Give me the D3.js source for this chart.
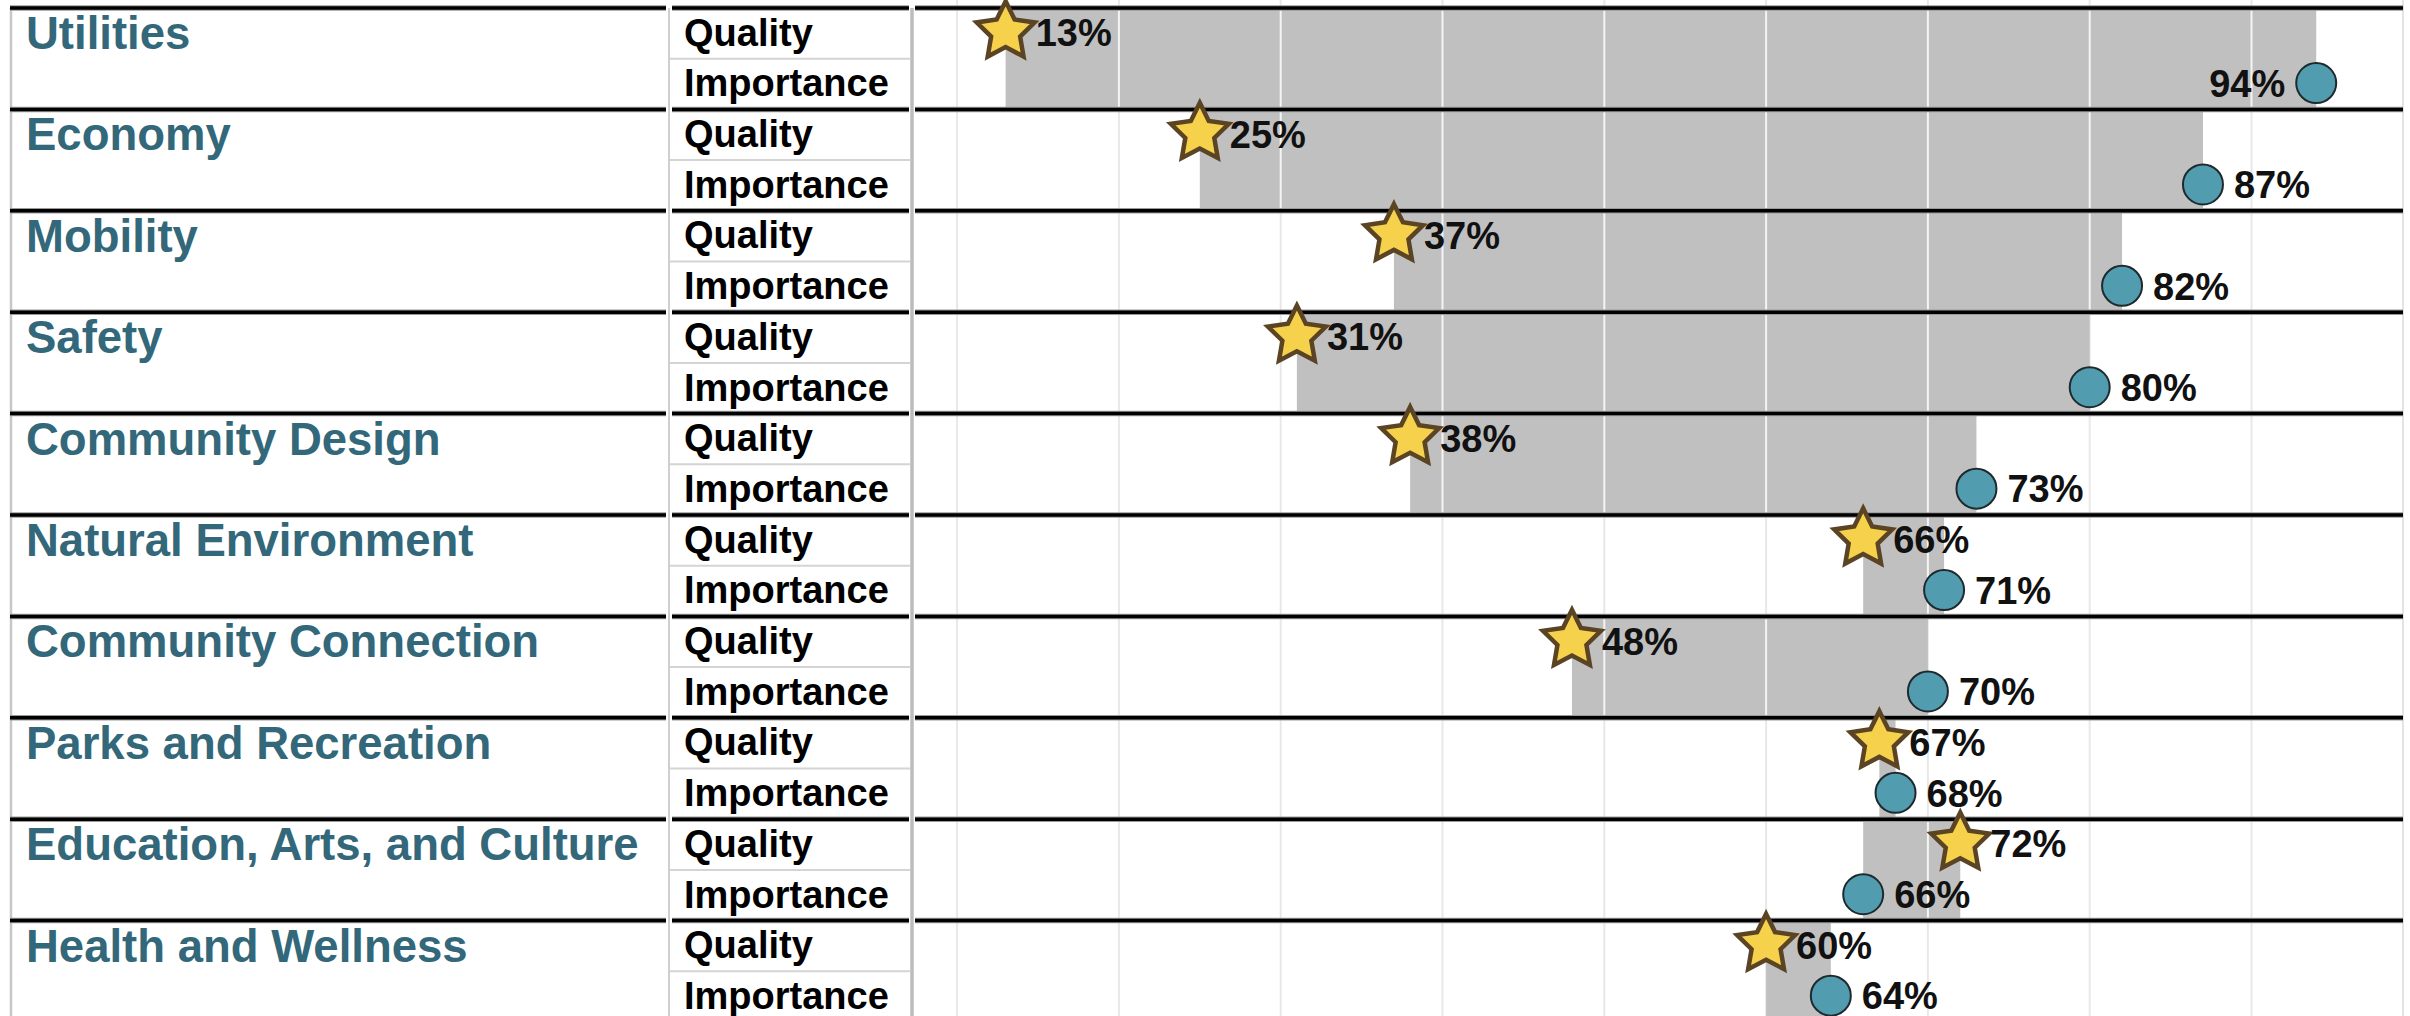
<!DOCTYPE html>
<html>
<head>
    <meta charset="utf-8">
    <title>Quality vs Importance</title>
    <script src="https://d3js.org/d3.v7.min.js"></script>
    <style>
        body { margin:0; background:#fff; }
        svg {
            display:block;
            font-family: 'Liberation Sans', Arial, sans-serif;
            font-weight: bold;
        }
    </style>
</head>
<body>
    <svg id="chart" width="2410" height="1016"></svg>
<script>
    // values (percent)
    const categories = ['Utilities', 'Economy', 'Mobility', 'Safety', 'Community Design',
                        'Natural Environment', 'Community Connection', 'Parks and Recreation',
                        'Education, Arts, and Culture', 'Health and Wellness'];
    const qualityPct = [13, 25, 37, 31, 38, 66, 48, 67, 72, 60];
    const importancePct = [94, 87, 82, 80, 73, 71, 70, 68, 66, 64];
    const subLabels = ['Quality', 'Importance'];
    const gridTicks = [10, 20, 30, 40, 50, 60, 70, 80, 90];

    let svg = d3.select('#chart');
    let width = 2410, height = 1016;

    // table columns
    let tableLeft = 11, catRight = 668, subRight = 912, paneRight = 2403;
    let rowH = 101.4;

    let rowScale = d3.scaleBand()
                    .domain(categories)
                    .range([8, 8 + rowH * categories.length]);
    let subScale = d3.scaleBand()
                    .domain(subLabels)
                    .range([0, rowScale.bandwidth()]);
    let xScale = d3.scaleLinear()
                    .domain([0, 100])
                    .range([795.3, 2413.3]);

    let rows = categories.map((c, i) => ({ cat: c, q: qualityPct[i], imp: importancePct[i] }));
    let qY = d => rowScale(d.cat) + subScale('Quality') + subScale.bandwidth() / 2 - 1.5;
    let iY = d => rowScale(d.cat) + subScale('Importance') + subScale.bandwidth() / 2 - 1;

    // light gridlines across the pane
    svg.append('g').selectAll('line')
        .data(gridTicks)
        .join('line')
        .attr('x1', d => xScale(d)).attr('x2', d => xScale(d))
        .attr('y1', 0).attr('y2', height)
        .style('stroke', '#e8e8e8')
        .style('stroke-width', 2);
    svg.append('line')
        .attr('x1', paneRight).attr('x2', paneRight)
        .attr('y1', 0).attr('y2', height)
        .style('stroke', '#e4e4e4')
        .style('stroke-width', 2);

    // gray gap bands between quality and importance
    let bandG = svg.append('g');
    bandG.selectAll('rect')
        .data(rows)
        .join('rect')
        .attr('x', d => xScale(Math.min(d.q, d.imp)))
        .attr('width', d => Math.abs(xScale(d.imp) - xScale(d.q)))
        .attr('y', d => rowScale(d.cat))
        .attr('height', rowScale.bandwidth())
        .style('fill', '#c0c0c0');

    // white gridlines where they cross a band
    rows.forEach(r => {
        let lo = Math.min(r.q, r.imp), hi = Math.max(r.q, r.imp);
        bandG.selectAll(null)
            .data(gridTicks.filter(t => t > lo && t < hi))
            .join('line')
            .attr('x1', t => xScale(t)).attr('x2', t => xScale(t))
            .attr('y1', rowScale(r.cat)).attr('y2', rowScale(r.cat) + rowScale.bandwidth())
            .style('stroke', '#f4f4f4')
            .style('stroke-width', 2);
    });

    // table structure
    let tableG = svg.append('g');
    tableG.append('line')
        .attr('x1', tableLeft).attr('x2', tableLeft)
        .attr('y1', 8).attr('y2', height)
        .style('stroke', '#c8c8c8').style('stroke-width', 2.5);
    tableG.append('line')
        .attr('x1', catRight + 1).attr('x2', catRight + 1)
        .attr('y1', 8).attr('y2', height)
        .style('stroke', '#cfcfcf').style('stroke-width', 2);
    tableG.append('line')
        .attr('x1', subRight).attr('x2', subRight)
        .attr('y1', 8).attr('y2', height)
        .style('stroke', '#bcbcbc').style('stroke-width', 3.5);
    tableG.selectAll('.sub-divider')
        .data(rows)
        .join('line')
        .classed('sub-divider', true)
        .attr('x1', catRight + 2).attr('x2', subRight - 2)
        .attr('y1', d => rowScale(d.cat) + subScale('Importance'))
        .attr('y2', d => rowScale(d.cat) + subScale('Importance'))
        .style('stroke', '#d4d4d4').style('stroke-width', 2);

    // thick row separators, broken at the column dividers
    let segs = [[tableLeft - 1, catRight - 2], [catRight + 4, subRight - 3], [subRight + 3, paneRight]];
    let lineTops = categories.map(c => rowScale(c)).concat([rowScale.range()[1]]);
    lineTops.forEach(y => {
        segs.forEach(s => {
            tableG.append('line')
                .attr('x1', s[0]).attr('x2', s[1]).attr('y1', y).attr('y2', y)
                .style('stroke', '#9a9a9a').style('stroke-width', 5.5);
            tableG.append('line')
                .attr('x1', s[0]).attr('x2', s[1]).attr('y1', y).attr('y2', y)
                .style('stroke', '#000').style('stroke-width', 3.5);
        });
    });

    // category names
    svg.append('g').selectAll('text')
        .data(rows)
        .join('text')
        .attr('x', 26)
        .attr('y', d => rowScale(d.cat) + 41)
        .style('font-size', '45.5px')
        .style('fill', '#33677a')
        .text(d => d.cat);

    // Quality / Importance labels
    let subG = svg.append('g');
    rows.forEach(r => {
        subG.selectAll(null)
            .data(subLabels)
            .join('text')
            .attr('x', 684)
            .attr('y', s => rowScale(r.cat) + subScale(s) + subScale.bandwidth() / 2 - 1)
            .attr('dy', '0.35em')
            .style('font-size', '38px')
            .style('fill', '#000')
            .text(s => s);
    });

    // importance circles
    let markG = svg.append('g');
    markG.selectAll('circle')
        .data(rows)
        .join('circle')
        .attr('cx', d => xScale(d.imp))
        .attr('cy', iY)
        .attr('r', 20)
        .style('fill', '#519caf')
        .style('stroke', '#1e2a2e')
        .style('stroke-width', 2);

    // quality stars (chunkier than d3.symbolStar, like the Tableau shape)
    let starR = 30.5, starInner = 0.5;
    let starPts = d3.range(10).map(k => [k * Math.PI / 5, k % 2 ? starR * starInner : starR]);
    let starPath = d3.lineRadial().curve(d3.curveLinearClosed)(starPts);
    markG.selectAll('path')
        .data(rows)
        .join('path')
        .attr('d', starPath)
        .attr('transform', d => `translate(${xScale(d.q)},${qY(d)})`)
        .style('fill', '#f6d24c')
        .style('stroke', '#5b4423')
        .style('stroke-width', 4.5)
        .style('stroke-linejoin', 'miter');

    // value labels
    let labG = svg.append('g').style('font-size', '38px').style('fill', '#111');
    labG.selectAll('.q-label')
        .data(rows)
        .join('text')
        .classed('q-label', true)
        .attr('x', d => xScale(d.q) + 30)
        .attr('y', qY)
        .attr('dy', '0.38em')
        .text(d => d.q + '%');
    labG.selectAll('.i-label')
        .data(rows)
        .join('text')
        .classed('i-label', true)
        .each(function(d) {
            // flip to the left side when the label would run past the pane
            let left = xScale(d.imp) + 31 + 76 > paneRight;
            d3.select(this)
                .attr('x', left ? xScale(d.imp) - 31 : xScale(d.imp) + 31)
                .attr('text-anchor', left ? 'end' : 'start');
        })
        .attr('y', iY)
        .attr('dy', '0.36em')
        .text(d => d.imp + '%');
</script>
</body>
</html>
